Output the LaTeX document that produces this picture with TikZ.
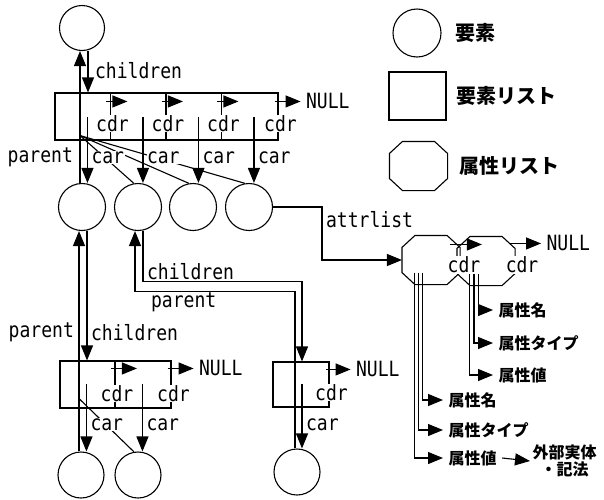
\documentclass[tikz,border=0pt]{standalone}
\usepackage{fontspec}
\newfontfamily\lblfont[FakeStretch=0.86]{DejaVu Sans Mono}
\newfontfamily\jpfont{Noto Sans CJK JP}
\usetikzlibrary{arrows.meta,positioning,calc}

% octagon drawn round a (plain) attribute-list node
\newcommand\octa[1]{%
  \draw ($(#1.north west)+(13,0)$) -- ($(#1.north east)+(-13,0)$)
     -- ($(#1.north east)+(0,12)$)  -- ($(#1.south east)+(0,-12)$)
     -- ($(#1.south east)+(-13,0)$) -- ($(#1.south west)+(13,0)$)
     -- ($(#1.south west)+(0,-12)$) -- ($(#1.north west)+(0,12)$) -- cycle;}

\begin{document}
\begin{tikzpicture}[
  x=1pt, y=-1pt, line width=1.1pt,
  elem/.style  = {draw, circle, inner sep=0pt, minimum size=47pt},
  elst/.style  = {draw, rectangle, inner sep=0pt, minimum height=47pt},
  alst/.style  = {rectangle, inner sep=0pt, minimum width=57pt, minimum height=48pt},
  lbl/.style   = {font=\lblfont\fontsize{21}{21}\selectfont, inner sep=0.5pt},
  lblw/.style  = {lbl, fill=white},
  nul/.style   = {lbl, inner xsep=5pt, anchor=west},
  jp/.style    = {font=\jpfont\bfseries\fontsize{20}{20}\selectfont, inner sep=0pt},
  jps/.style   = {font=\jpfont\bfseries\fontsize{16}{17}\selectfont,
                  inner xsep=5pt, inner ysep=0pt, anchor=west},
  ar/.style    = {-{Triangle[length=15pt,width=12pt]}},
]
\useasboundingbox (0,0) rectangle (604,499);

% ============================ elements ======================================
\node[elem, minimum size=45pt] (el0) at (82,28)   {};
\node[elem]                    (el1) at (82,207)  {};
\node[elem]                    (el2) at (138,207) {};
\node[elem]                    (el3) at (193,207) {};
\node[elem]                    (el4) at (249,207) {};
\node[elem, minimum size=46pt] (el5) at (81,475)  {};
\node[elem, minimum size=46pt] (el6) at (138,475) {};
\node[elem, minimum size=46pt] (el7) at (297,472) {};

% ============================ element lists =================================
\node[elst, minimum width=223pt]                     (lst0) at (166.5,116.5) {};
\node[elst, minimum width=111pt]                     (lst1) at (115.5,384.5) {};
\node[elst, minimum width=56pt, minimum height=45pt] (lst2) at (301,384.5)   {};

% ============================ attribute lists ===============================
\node[alst] (att1) at (431,260) {};
\node[alst] (att2) at (486,261) {};
\octa{att1}
\octa{att2}

% ============================ legend ========================================
\node[elem, minimum size=48pt]                       (lgel)  at (417,33)    {};
\node[elst, minimum width=57pt, minimum height=48pt] (lglst) at (417.5,96)  {};
\node[alst]                                          (lgatt) at (418.5,166) {};
\octa{lgatt}
\node[jp, right=13pt of lgel]  (lgelt)  {要素};
\node[jp, right=9pt of lglst]  (lglstt) {要素リスト};
\node[jp, right=11pt of lgatt] (lgattt) {属性リスト};

% ============================ top list: cdr / car ===========================
\coordinate (b01) at ($(lst0.north west)+(56,0)$);
\coordinate (b02) at ($(lst0.north west)+(111.5,0)$);
\coordinate (b03) at ($(lst0.north west)+(167,0)$);
\coordinate (b04) at (lst0.north east);
\draw (b01) -- (b01 |- lst0.south);
\draw (b02) -- (b02 |- lst0.south);
\draw (b03) -- (b03 |- lst0.south);
\node[nul] (null0) at ($(b04)+(22,9)$) {NULL};
\draw[ar] ($(b01)+(-4,9)$) -- ++(21,0);
\draw[ar] ($(b02)+(-4,9)$) -- ++(21,0);
\draw[ar] ($(b03)+(-4,9)$) -- ++(21,0);
\draw[ar] ($(b04)+(-4,9)$) -- (null0.west);

\coordinate (car00) at ($(lst0.north west)+(33,25)$);
\coordinate (car01) at ($(lst0.north west)+(88.5,25)$);
\coordinate (car02) at ($(lst0.north west)+(144,25)$);
\coordinate (car03) at ($(lst0.north west)+(199.5,25)$);
\draw[ar] (car00) -- (car00 |- el1.north);
\draw[ar] (car01) -- (car01 |- el2.north);
\draw[ar] (car02) -- (car02 |- el3.north);
\draw[ar] (car03) -- (car03 |- el4.north);

% parent / children of the top element
\coordinate (pp0) at ($(el0.south)+(-2,0)$);
\coordinate (cc0) at ($(el0.south)+(6,0)$);
\draw[ar] (pp0 |- el1.north) -- (pp0);
\draw[ar] (cc0) -- (cc0 |- lst0.north);
\coordinate (pj0) at ($(pp0 |- lst0.south)+(0,-5)$);
\draw (el2.100) -- (pj0);
\draw (el3.100) -- (pj0);
\draw (el4.100) -- (pj0);

% ============================ lower left list ===============================
\coordinate (b11) at ($(lst1.north west)+(55.5,0)$);
\coordinate (b12) at (lst1.north east);
\draw (b11) -- (b11 |- lst1.south);
\node[nul] (null1) at ($(b12)+(22,8)$) {NULL};
\draw[ar] ($(b11)+(-4,8)$) -- ++(26,0);
\draw[ar] ($(b12)+(-4,8)$) -- (null1.west);

\coordinate (car10) at ($(lst1.north west)+(27,24)$);
\coordinate (car11) at ($(lst1.north west)+(83,24)$);
\draw[ar] (car10) -- (car10 |- el5.north);
\draw[ar] (car11) -- (car11 |- el6.north);

\coordinate (pp1) at ($(el1.south)+(-3,0)$);
\coordinate (cc1) at ($(el1.south)+(5,0)$);
\draw[ar] (pp1 |- el5.north) -- (pp1);
\draw[ar] (cc1) -- (cc1 |- lst1.north);
\coordinate (pj1) at ($(pp1 |- lst1.south)+(0,-10)$);
\draw (el6.100) -- (pj1);

% ============================ lower right list ==============================
\coordinate (b21) at (lst2.north east);
\node[nul] (null2) at ($(b21)+(21,8)$) {NULL};
\draw[ar] ($(b21)+(-4,8)$) -- (null2.west);

\coordinate (pp2) at ($(el2.south)+(-3,0)$);
\coordinate (cc2) at ($(el2.south)+(5,0)$);
\coordinate (pk)  at ($(el7.north)+(-2,0)$);
\coordinate (cc3) at ($(lst2.north)+(1,0)$);
\draw[ar] (pk) |- ($(pp2)+(0,60)$) -- (pp2);
\draw[ar] (cc2) |- ($(cc3)+(0,-80)$) -- (cc3);
\coordinate (car20) at ($(cc3)+(0,23)$);
\draw[ar] (car20) -- (car20 |- el7.north);

% ============================ attribute lists ===============================
\draw[ar] (el4.east) -| ($(el4.east)!0.38!(att1.west)$) |- (att1.west);
\draw[ar] ($(att1.north east)+(-10,9)$) -- ($(att2.north west)+(25,8)$);
\node[nul] (null3) at ($(att2.north east)+(26,7)$) {NULL};
\draw[ar] ($(att2.north east)+(-6,7)$) -- (null3.west);

\node[jps] (an1) at (443,400) {属性名};
\node[jps] (at1) at (443,430) {属性タイプ};
\node[jps] (av1) at (443,458) {属性値};
\draw[ar] ($(att1.south west)+(20.5,-12)$) |- (an1.west);
\draw[ar] ($(att1.south west)+(16.5,-12)$) |- (at1.west);
\draw[ar] ($(att1.south west)+(12.5,-12)$) |- (av1.west);

\node[jps] (an2) at (493,310) {属性名};
\node[jps] (at2) at (493,343) {属性タイプ};
\node[jps] (av2) at (493,375) {属性値};
\draw[ar] ($(att2.south west)+(21.5,-12)$) |- (an2.west);
\draw[ar] ($(att2.south west)+(17,-12)$)   |- (at2.west);
\draw[ar] ($(att2.south west)+(12.5,-12)$) |- (av2.west);

\node[jps, align=center, inner xsep=2pt] (ext) at (530,461) {外部実体\\・記法};
\draw[ar] (av1.east) -- (ext.west);

% ============================ labels ========================================
\node[lbl, anchor=west]  (tch0) at ($(cc0)+(6,20)$)              {children};
\node[lbl, anchor=east]  (tpa0) at ($(pp0 |- lst0.south)+(-6,17)$) {parent};
\node[lblw] (tcdr0) at ($(b01)+(2,31)$) {cdr};
\node[lblw] (tcdr1) at ($(b02)+(2,31)$) {cdr};
\node[lblw] (tcdr2) at ($(b03)+(2,31)$) {cdr};
\node[lblw] (tcdr3) at ($(b04)+(2,31)$) {cdr};
\node[lblw, anchor=west] (tcar0) at ($(car00)+(3,40)$) {car};
\node[lblw, anchor=west] (tcar1) at ($(car01)+(3,40)$) {car};
\node[lblw, anchor=west] (tcar2) at ($(car02)+(3,40)$) {car};
\node[lblw, anchor=west] (tcar3) at ($(car03)+(3,40)$) {car};

\node[lbl, anchor=west]  (tch2) at ($(cc2)+(3,41)$)  {children};
\node[lbl, anchor=west]  (tpa2) at ($(pp2)+(15,71)$) {parent};

\node[lbl, anchor=east]  (tpa1) at ($(pp1 |- lst1.north)+(-4,-28)$) {parent};
\node[lbl, anchor=west]  (tch1) at ($(cc1 |- lst1.north)+(3,-28)$)  {children};
\node[lblw] (tcdr4) at ($(b11)+(2,33)$) {cdr};
\node[lblw] (tcdr5) at ($(b12)+(2,33)$) {cdr};
\node[lblw, anchor=west] (tcar4) at ($(car10)+(3,40)$) {car};
\node[lblw, anchor=west] (tcar5) at ($(car11)+(3,40)$) {car};

\node[lblw] (tcdr6) at ($(b21)+(2,31)$) {cdr};
\node[lblw, anchor=west] (tcar6) at ($(car20)+(3,40)$) {car};

\node[lbl, anchor=west] (tatl) at ($(el4.east)+(52,13)$) {attrlist};
\node[lblw] (tcdr7) at ($(att1.east)+(4,5)$) {cdr};
\node[lblw] (tcdr8) at ($(att2.east)+(7,4)$) {cdr};

\end{tikzpicture}
\end{document}
